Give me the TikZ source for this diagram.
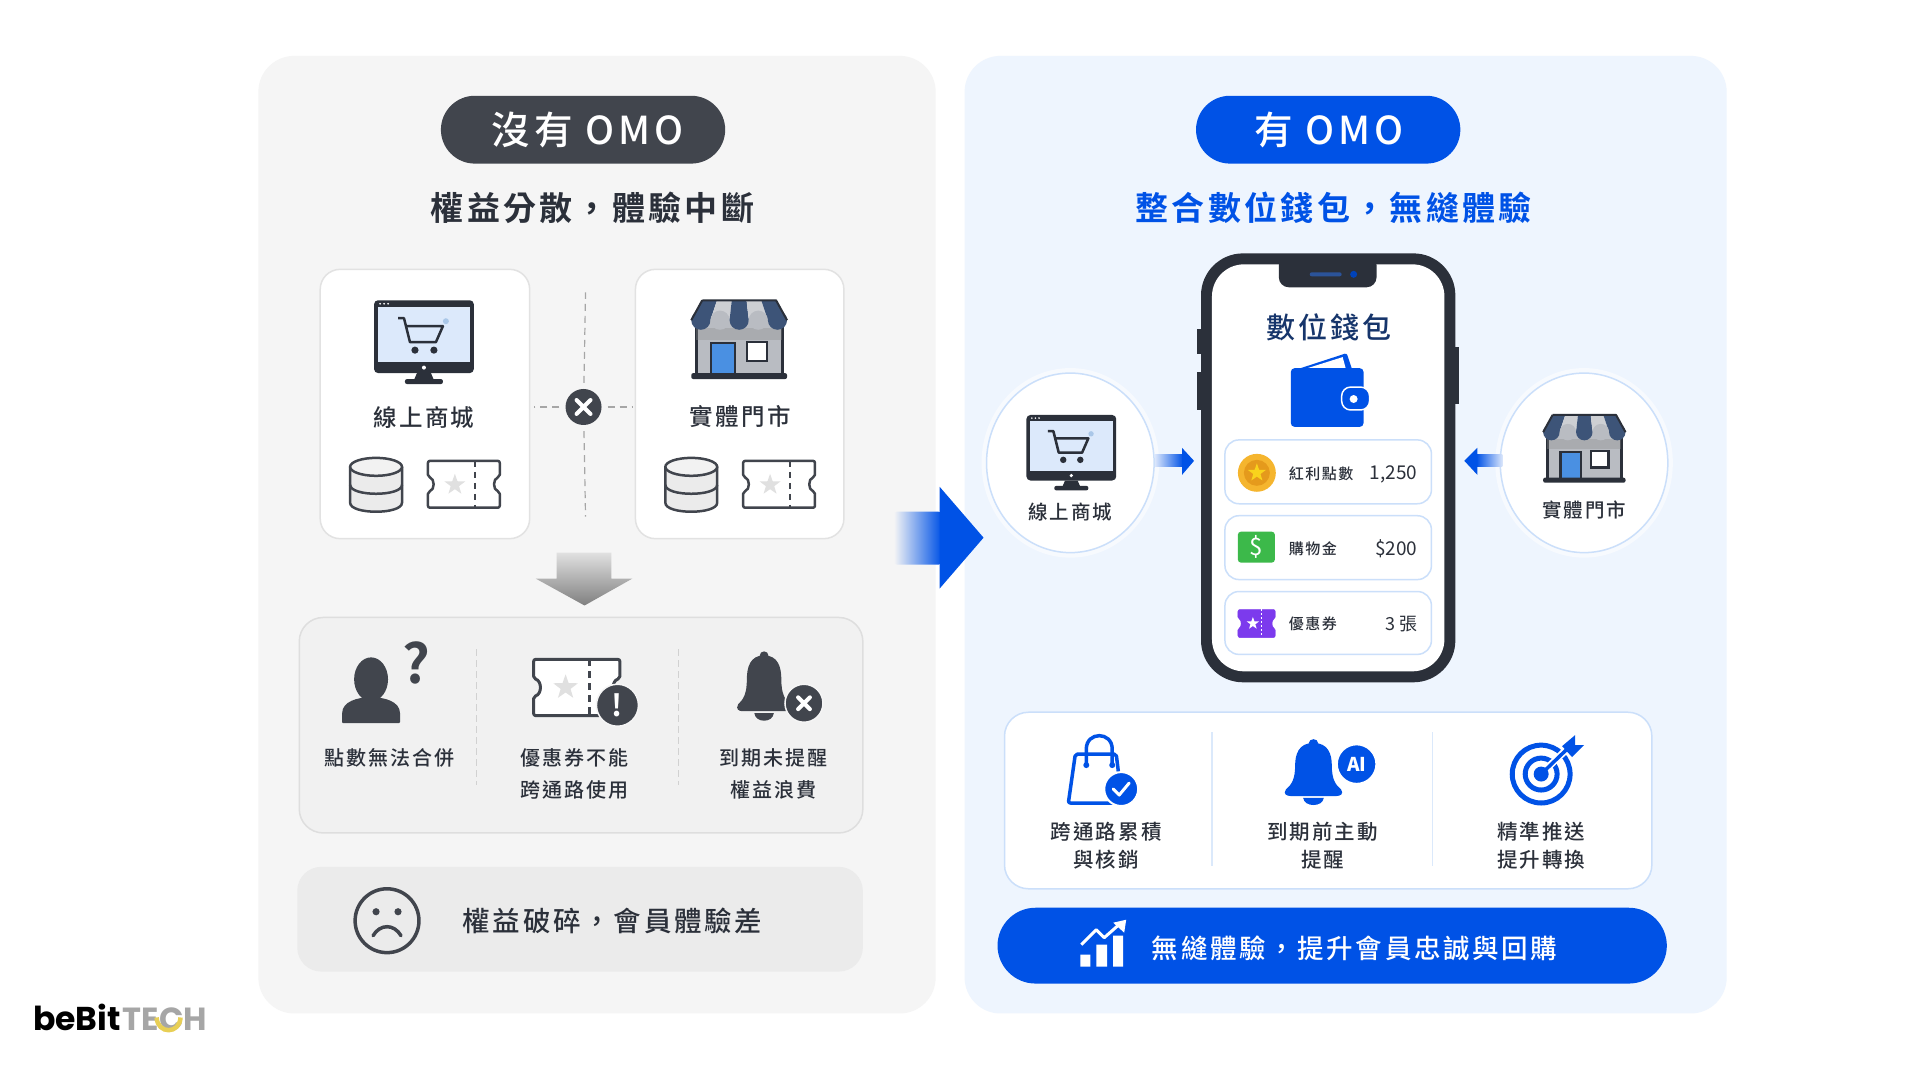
\documentclass[tikz,border=0pt]{standalone}
\usepackage{fontspec}
\usetikzlibrary{positioning}
\setmainfont{Noto Sans CJK TC Medium}[LetterSpace=10]
\newfontfamily\boldfont{Noto Sans CJK TC Bold}[LetterSpace=10]
\newfontfamily\plainfont{Noto Sans CJK TC}
\newfontfamily\logofont{Poppins}

\definecolor{panelgrey}{HTML}{F5F5F5}
\definecolor{panelblue}{HTML}{EEF5FE}
\definecolor{dark}{HTML}{41454D}
\definecolor{ink}{HTML}{2B303A}
\definecolor{navy}{HTML}{16356B}
\definecolor{omoblue}{HTML}{0052E6}
\definecolor{edgegrey}{HTML}{E2E2E2}
\definecolor{edgeblue}{HTML}{CBDFFA}
\definecolor{barblue}{HTML}{3D5478}
\definecolor{bargrey}{HTML}{CDCFD3}
\definecolor{wallgrey}{HTML}{B9BCC2}
\definecolor{doorblue}{HTML}{4A90E2}
\definecolor{screenblue}{HTML}{DCE9FB}
\definecolor{coupon}{HTML}{7C3AED}
\definecolor{cash}{HTML}{3CB94A}
\definecolor{gold}{HTML}{F5B52E}
\definecolor{golddark}{HTML}{E59A1C}
\definecolor{logoyellow}{HTML}{E8CF55}

\tikzset{
  panel/.style={rounded corners=36pt},
  card/.style={fill=white, draw=edgegrey, line width=1.5pt, rounded corners=20pt},
  rowbox/.style={fill=white, draw=edgeblue, line width=1.5pt, rounded corners=14pt},
  dashline/.style={draw=black!35, line width=1.2pt, dash pattern=on 7pt off 5pt},
  lab/.style={inner sep=0pt, align=center, text=ink, font=\fontsize{20}{32}\selectfont},
  benefit/.style={lab, font=\fontsize{20.5}{28}\selectfont},
  pilltext/.style={inner sep=0pt, text=white, font=\fontsize{38.5}{42}\selectfont},
  headtext/.style={inner sep=0pt, font=\boldfont\fontsize{33}{38}\selectfont},
  starmark/.pic={
    \fill[pic actions] (0,-1) -- (0.235,-0.324) -- (0.951,-0.309) -- (0.38,0.124) -- (0.588,0.809)
      -- (0,0.4) -- (-0.588,0.809) -- (-0.38,0.124) -- (-0.951,-0.309) -- (-0.235,-0.324) -- cycle;
  },
  xcross/.pic={
    \draw[white, line width=4pt, line cap=round] (-7,-7) -- (7,7) (-7,7) -- (7,-7);
  },
  monitor/.pic={
    \fill[ink, rounded corners=4pt] (0,0) rectangle (100,73);
    \fill[screenblue] (4,6.5) rectangle (96,62);
    \foreach \d in {6,10,14} \fill[white] (\d,3.5) circle (1);
    \fill[white] (50,67.5) circle (2);
    \fill[ink] (43,73) -- (57,73) -- (60,80) -- (40,80) -- cycle;
    \fill[ink, rounded corners=2pt] (31,79) rectangle (69,84);
    \draw[ink, line width=2.5pt, line join=round] (24,18) -- (30,18) -- (36,42) -- (62,42) -- (69,26) -- (32,26);
    \fill[ink] (41,50) circle (3.6) (60,50) circle (3.6);
    \fill[black!10!doorblue!45] (72,21) circle (3);
  },
  store/.pic={
    \fill[wallgrey] (5,20) rectangle (91,75);
    \draw[ink, line width=3pt] (5,20) -- (5,75) (91,20) -- (91,75);
    \fill[black!45, opacity=0.35] (5,28) rectangle (91,40);
    \foreach \i/\c in {0/barblue,1/bargrey,2/barblue,3/bargrey,4/barblue} {
      \fill[\c] ({11+\i*14.8},0) -- ({11+(\i+1)*14.8},0) -- ({(\i+1)*19.2},20) -- (\i*19.2,20) -- cycle;
    }
    \foreach \i/\c in {0/barblue,1/wallgrey,2/barblue,3/wallgrey,4/barblue} {
      \fill[\c] ({9.6+\i*19.2},20) circle (9.6);
    }
    \draw[ink, line width=2pt, line join=round] (11,0) -- (85,0) -- (96,20) (11,0) -- (0,20);
    \draw[ink, line width=2.5pt, fill=doorblue] (20,43) rectangle (44,75);
    \draw[ink, line width=2.5pt, fill=white] (56,42) rectangle (76,61);
    \fill[ink, rounded corners=2pt] (0,73) rectangle (96,79);
  },
  dbstack/.pic={
    \draw[dark, line width=2.5pt, fill=black!8] (0,9) -- (0,45) .. controls (0,57) and (52,57) .. (52,45) -- (52,9);
    \draw[dark, line width=2.5pt, fill=black!5] (26,9) ellipse (26 and 9);
    \draw[dark, line width=2.5pt] (0,27) .. controls (0,39) and (52,39) .. (52,27);
  },
  ticketbody/.pic={
    \draw[pic actions, rounded corners=2pt, line join=round] (0,0) -- (72,0) -- (72,16) .. controls (65,18) and (65,29) .. (72,31) -- (72,47)
      -- (0,47) -- (0,31) .. controls (7,29) and (7,18) .. (0,16) -- cycle;
  },
  ticket/.pic={
    \pic[draw=dark, fill=white, line width=2.5pt] {ticketbody};
    \draw[dark, line width=2.5pt, dash pattern=on 6pt off 5pt] (47,0) -- (47,47);
    \pic[fill=black!12, scale=11] at (27,24) {starmark};
  },
  bell/.pic={
    \fill[pic actions] (25,4) .. controls (12,4) and (9,16) .. (9,28) .. controls (9,42) and (6,48) .. (1,53)
      .. controls (-2,58) and (2,60) .. (5,60) -- (45,60) .. controls (48,60) and (52,58) .. (49,53)
      .. controls (44,48) and (41,42) .. (41,28) .. controls (41,16) and (38,4) .. (25,4) -- cycle;
    \fill[pic actions] (25,4) circle (4);
    \fill[pic actions] (16,62) .. controls (17,72) and (33,72) .. (34,62) -- cycle;
  }
}

\begin{document}
\begin{tikzpicture}[x=0.9975pt, y=-0.9975pt]
  \useasboundingbox (0,0) rectangle (1924.8,1082.7);
  \fill[white] (0,0) rectangle (1924.8,1082.7);

  % Left panel
  \fill[panelgrey, panel] (259,56) rectangle (938,1016);
  \fill[dark, rounded corners=34pt] (442,96) rectangle (727,164);
  \node[pilltext] (leftpill) at (589,130) {沒有 OMO};
  \node[headtext, text=ink] (lefthead) at (594,208) {權益分散，體驗中斷};

  % Two channel cards
  \draw[card] (321,270) rectangle (531,540);
  \draw[card] (637,270) rectangle (846,540);
  \pic at (375,301) {monitor};
  \node[lab, font=\fontsize{23.5}{26}\selectfont] (onlineleft) at (425,419) {線上商城};
  \pic at (693,301) {store};
  \node[lab, font=\fontsize{23.5}{26}\selectfont] (storeleft) at (742,418) {實體門市};
  \pic at (351,459) {dbstack};
  \pic at (429,462) {ticket};
  \pic at (667,459) {dbstack};
  \pic at (745,462) {ticket};

  % Broken link between the cards
  \node[circle, fill=dark, minimum size=36pt, inner sep=0pt] (breakmark) at (585,408) {};
  \pic at (585,408) {xcross};
  \coordinate (breaktop) at (587,293);
  \coordinate (breakbottom) at (587,518);
  \coordinate (breakleft) at (535,408);
  \coordinate (breakright) at (635,408);
  \draw[dashline, shorten <=6pt] (breakmark) -- (breaktop);
  \draw[dashline, shorten <=6pt] (breakmark) -- (breakbottom);
  \draw[dashline, shorten <=6pt] (breakmark) -- (breakleft);
  \draw[dashline, shorten <=6pt] (breakmark) -- (breakright);

  % Down arrow
  \shade[top color=black!12, bottom color=black!50] (558,554) -- (613,554) -- (613,580) -- (634,580) -- (586,607) -- (537,580) -- (558,580) -- cycle;

  % Problems box
  \draw[fill=black!1.5!panelgrey, draw=black!13, line width=1.5pt, rounded corners=24pt] (300,619) rectangle (865,835);
  \draw[black!18, line width=1.2pt, dash pattern=on 7pt off 4pt] (478,651) -- (478,787);
  \draw[black!18, line width=1.2pt, dash pattern=on 7pt off 4pt] (680,651) -- (680,787);
  % Person with question mark
  \fill[dark] (372,681) ellipse (17 and 22);
  \fill[dark, rounded corners=1pt] (343,725) -- (343,716) .. controls (343,703) and (359,699) .. (372,699) .. controls (385,699) and (401,703) .. (401,716) -- (401,725) -- cycle;
  \node[inner sep=0pt, text=dark, font=\boldfont\fontsize{54}{54}\selectfont] (askmark) at (417,665) {?};
  \node[lab] (mergetext) at (390,760) {點數無法合併};
  % Ticket with warning
  \pic[draw=dark, fill=white, line width=3pt, scale=1.2] at (535,661) {ticketbody};
  \draw[dark, line width=3pt, dash pattern=on 7pt off 5pt] (591,661) -- (591,717);
  \pic[fill=black!12, scale=13] at (567,689) {starmark};
  \node[circle, fill=dark, draw=panelgrey, line width=1.5pt, minimum size=42pt, inner sep=0pt, text=white, font=\boldfont\fontsize{30}{30}\selectfont] (alertmark) at (619,707) {!};
  \node[lab] (couponleft) at (576,776) {優惠券不能\\跨通路使用};
  % Bell with cross
  \pic[fill=dark, xscale=1.08] at (739,653) {bell};
  \node[circle, fill=dark, draw=panelgrey, line width=1.5pt, minimum size=38pt, inner sep=0pt] (bellcross) at (806,705) {};
  \pic[scale=0.85] at (806,705) {xcross};
  \node[lab] (expireleft) at (775,776) {到期未提醒\\權益浪費};

  % Grey result bar
  \fill[black!8, rounded corners=24pt] (298,869) rectangle (865,974);
  \draw[dark, line width=3.5pt] (388,923) circle (32);
  \fill[dark] (377,914) circle (3.6) (399,914) circle (3.6);
  \draw[dark, line width=3.5pt, line cap=round] (374,938) .. controls (381,926) and (395,926) .. (402,938);
  \node[lab, font=\fontsize{27.5}{30}\selectfont] (resultleft) at (614,923) {權益破碎，會員體驗差};

  % Right panel
  \fill[panelblue, panel] (967,56) rectangle (1731,1016);

  % Arrow between panels
  \shade[left color=panelgrey, right color=omoblue, rounded corners=3pt] (896,513) rectangle (944,566);
  \fill[omoblue] (942,513) -- (942,488) -- (986,539) -- (942,590) -- (942,566) -- cycle;

  \fill[omoblue, rounded corners=34pt] (1199,96) rectangle (1464,164);
  \node[pilltext] (rightpill) at (1332,130) {有 OMO};
  \node[headtext, text=omoblue] (righthead) at (1337,208) {整合數位錢包，無縫體驗};

  % Phone
  \fill[ink] (1200,330) rectangle (1206,355);
  \fill[ink] (1200,373) rectangle (1206,411);
  \fill[ink] (1457,348) rectangle (1463,405);
  \fill[ink, rounded corners=42pt] (1204,254) rectangle (1459,684);
  \fill[white, rounded corners=32pt] (1215,265) rectangle (1448,673);
  \fill[ink, rounded corners=10pt] (1282,256) rectangle (1380,288);
  \fill[barblue!70!omoblue, rounded corners=2pt] (1313,273) rectangle (1345,277);
  \fill[omoblue!80!black] (1357,275) circle (3.5);
  \node[lab, text=navy, font=\fontsize{29}{32}\selectfont] (wallettitle) at (1332,328) {數位錢包};

  % Wallet
  \fill[omoblue, rounded corners=2pt] (1301,370) -- (1350,354) -- (1356,372) -- cycle;
  \fill[white] (1311,369) -- (1346,358) -- (1349,369) -- cycle;
  \fill[omoblue, rounded corners=4pt] (1294,369) rectangle (1367,428);
  \draw[white, line width=1.5pt, fill=omoblue, rounded corners=9pt] (1345,388) rectangle (1373,411);
  \fill[white] (1357,400) circle (4);

  % Wallet rows
  \draw[rowbox] (1228,441) rectangle (1435,505);
  \draw[rowbox] (1228,517) rectangle (1435,581);
  \draw[rowbox] (1228,593) rectangle (1435,656);
  \fill[gold] (1260,474) circle (19);
  \fill[golddark] (1260,474) circle (13);
  \pic[fill=gold!60!yellow, scale=9.5] at (1260,474) {starmark};
  \node[lab, anchor=west, font=\fontsize{15}{18}\selectfont] (pointslabel) at (1292,475) {紅利點數};
  \node[lab, anchor=east, font=\plainfont\fontsize{19}{22}\selectfont] (pointsvalue) at (1421,476) {1,250};
  \fill[cash, rounded corners=3pt] (1241,533) rectangle (1278,564);
  \node[inner sep=0pt, text=white, font=\plainfont\fontsize{24}{24}\selectfont] (cashmark) at (1259.5,548) {\$};
  \node[lab, anchor=west, font=\fontsize{15}{18}\selectfont] (cashlabel) at (1292,550) {購物金};
  \node[lab, anchor=east, font=\plainfont\fontsize{19}{22}\selectfont] (cashvalue) at (1421,550) {\$200};
  \pic[draw=coupon, fill=coupon, xscale=0.52, yscale=0.6] at (1241,611) {ticketbody};
  \draw[white, line width=1pt, dash pattern=on 2pt off 2pt] (1265,611) -- (1265,639);
  \pic[fill=white, scale=6.5] at (1256,625) {starmark};
  \node[lab, anchor=west, font=\fontsize{15}{18}\selectfont] (couponlabel) at (1292,625) {優惠券};
  \node[lab, anchor=east, font=\plainfont\fontsize{18}{22}\selectfont] (couponvalue) at (1421,626) {3 張};

  % Channel circles
  \foreach \g in {10,6} {
    \draw[omoblue!3, line width=\g pt] (1073,464) ellipse (84 and 90);
    \draw[omoblue!3, line width=\g pt] (1588,464) ellipse (84 and 90);
  }
  \draw[fill=white, draw=edgeblue, line width=1.5pt] (1073,464) ellipse (84 and 90);
  \draw[fill=white, draw=edgeblue, line width=1.5pt] (1588,464) ellipse (84 and 90);
  \pic[scale=0.9] at (1029,416) {monitor};
  \node[lab, font=\fontsize{19.5}{22}\selectfont] (onlineright) at (1073,513) {線上商城};
  \pic[scale=0.86] at (1547,416) {store};
  \node[lab, font=\fontsize{19.5}{22}\selectfont] (storeright) at (1588,511) {實體門市};

  % Small arrows into the phone
  \shade[left color=omoblue!15, right color=omoblue] (1158,456) rectangle (1186,468);
  \fill[omoblue] (1185,449) -- (1197,462) -- (1185,476) -- cycle;
  \shade[left color=omoblue, right color=omoblue!15] (1480,456) rectangle (1506,468);
  \fill[omoblue] (1481,449) -- (1468,462) -- (1481,476) -- cycle;

  % Benefits box
  \draw[fill=white, draw=edgeblue, line width=1.5pt, rounded corners=24pt] (1007,714) rectangle (1656,891);
  \draw[edgeblue!70, line width=1.2pt] (1215,734) -- (1215,868);
  \draw[edgeblue!70, line width=1.2pt] (1436,734) -- (1436,868);
  % Bag
  \draw[omoblue, line width=3.5pt, line join=round, rounded corners=2pt] (1078,756) -- (1119,756) -- (1125,805) -- (1071,805) -- cycle;
  \draw[omoblue, line width=3.5pt] (1089,767) -- (1089,751) .. controls (1089,733) and (1115,733) .. (1115,751) -- (1115,767);
  \fill[omoblue] (1089,767) circle (3) (1115,767) circle (3);
  \draw[fill=omoblue, draw=white, line width=2pt] (1124,791) circle (17);
  \draw[white, line width=3pt, line cap=round, line join=round] (1116,791) -- (1122,797) -- (1132,785);
  \node[benefit] (crosstext) at (1109,848) {跨通路累積\\與核銷};
  % Bell with AI
  \pic[fill=omoblue, xscale=1.15, yscale=0.95] at (1288,741) {bell};
  \node[circle, fill=omoblue, draw=white, line width=1.5pt, minimum size=39pt, inner sep=0pt, text=white, font=\plainfont\fontsize{19}{20}\bfseries\selectfont] (aibadge) at (1360,766) {AI};
  \node[benefit] (remindtext) at (1326,848) {到期前主動\\提醒};
  % Target
  \draw[omoblue, line width=5pt] (1545,776) circle (29);
  \draw[omoblue, line width=5pt] (1545,776) circle (16);
  \fill[omoblue] (1545,776) circle (7.5);
  \draw[white, line width=7pt] (1553,768) -- (1574,748);
  \draw[omoblue, line width=3.5pt] (1545,776) -- (1573,749);
  \fill[omoblue] (1566,748) -- (1579,737) -- (1579,747) -- (1588,747) -- (1576,759) -- cycle;
  \node[benefit] (targettext) at (1545,848) {精準推送\\提升轉換};

  % Blue result bar
  \fill[omoblue, rounded corners=38pt] (1000,910) rectangle (1671,986);
  \fill[white] (1083,957) rectangle (1093,969) (1099,947) rectangle (1110,969) (1116,938) rectangle (1126,969);
  \draw[white, line width=3pt, line join=round] (1084,947) -- (1099,932) -- (1107,940) -- (1124,925);
  \fill[white] (1116,925) -- (1129,922) -- (1127,935) -- cycle;
  \node[lab, text=white, font=\fontsize{26.5}{30}\selectfont] (resultright) at (1358,951) {無縫體驗，提升會員忠誠與回購};

  % Logo
  \node[inner sep=0pt, anchor=base west, font=\logofont\fontsize{33}{34}\selectfont\bfseries] (logobebit) at (33,1033) {beBit};
  \node[inner sep=0pt, anchor=base west, text=black!35, font=\logofont\fontsize{32}{34}\selectfont\bfseries] (logotech) at (123,1033) {TECH};
  \draw[logoyellow, line width=4.5pt] (157,1020) .. controls (158,1037) and (180,1037) .. (181,1020);
\end{tikzpicture}
\end{document}
